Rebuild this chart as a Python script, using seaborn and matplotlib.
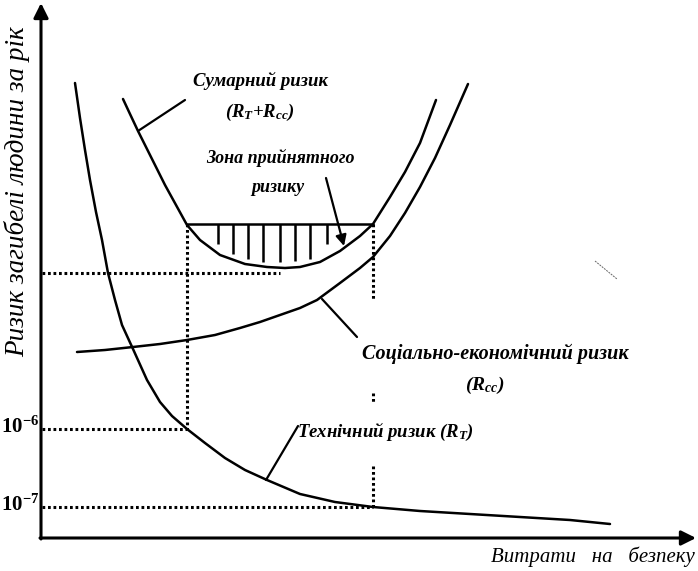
import numpy as np
import pandas as pd
import seaborn as sns
import matplotlib.pyplot as plt

# values (x: spending on safety, y: risk; image units, y grows downward)
rt_x = [75, 80, 85, 90, 96, 102, 108, 115, 122, 133, 147, 160, 172, 187, 205, 225, 245, 267,
        300, 335, 373, 420, 470, 520, 570, 610]
rt_y = [83, 118, 150, 180, 212, 240, 273, 300, 325, 349, 380, 402, 416, 429, 443, 458, 470, 480,
        494, 502, 507, 511, 514, 517, 520, 524]

rcc_x = [77, 105, 133, 160, 187, 215, 240, 260, 280, 300, 317, 340, 360, 373, 390, 405, 420, 435,
         450, 468]
rcc_y = [352, 350, 347, 344, 340, 335, 328, 322, 315, 308, 300, 283, 268, 257, 236, 213, 187, 158,
         125, 84]

sum_x = [123, 130, 138, 150, 165, 187, 200, 220, 245, 267, 285, 300, 320, 340, 360, 373, 390,
         405, 420, 436]
sum_y = [99, 114, 131, 155, 185, 225, 240, 255, 264, 267, 268, 267, 262, 251, 236, 224, 197,
         172, 143, 100]

zone_x = [187, 373]
zone_top = 224
hatch_x = [218, 233, 248, 263, 280, 295, 310, 327]
hatch_bottom = [244, 254, 259, 262, 262, 261, 259, 244]

level_low = 507    # 10^-7
level_mid = 429    # 10^-6
level_top = 273

ytick_labels = [r'$\mathbf{10^{-6}}$', r'$\mathbf{10^{-7}}$']

sns.set_theme(style="white")
plt.rcParams['font.family'] = ['Liberation Serif', 'DejaVu Serif']
plt.rcParams['text.color'] = 'black'
plt.rcParams['mathtext.fontset'] = 'custom'
plt.rcParams['mathtext.rm'] = 'Liberation Serif:bold:italic'
plt.rcParams['mathtext.it'] = 'Liberation Serif:bold:italic'
plt.rcParams['mathtext.bf'] = 'Liberation Serif:bold'

fig = plt.figure(figsize=(6.98, 5.71), dpi=100)
ax = fig.add_axes([0, 0, 1, 1])
ax.set_xlim(0, 698)
ax.set_ylim(571, 0)
ax.axis('off')

df = pd.concat([
    pd.DataFrame({'x': rt_x, 'y': rt_y, 'curve': 'RT'}),
    pd.DataFrame({'x': rcc_x, 'y': rcc_y, 'curve': 'Rcc'}),
    pd.DataFrame({'x': sum_x, 'y': sum_y, 'curve': 'Sum'}),
])
sns.lineplot(data=df, x='x', y='y', units='curve', estimator=None, sort=False,
             color='black', lw=1.8, ax=ax, legend=False)

# axes with arrows
arr = dict(arrowstyle='-|>', lw=2.2, color='black', mutation_scale=22, shrinkA=0, shrinkB=0)
ax.annotate('', xy=(41, 3), xytext=(41, 539), arrowprops=arr)
ax.annotate('', xy=(696, 538), xytext=(40, 538), arrowprops=arr)

# acceptable zone
ax.plot(zone_x, [zone_top, zone_top], color='black', lw=1.8)
ax.vlines(hatch_x, zone_top, hatch_bottom, color='black', lw=1.8)

dot = dict(color='black', lw=2.2, linestyle=(0, (0.9, 0.9)), dash_capstyle='butt')
ax.plot([42, 280], [level_top, level_top], **dot)
ax.plot([42, zone_x[0]], [level_mid, level_mid], **dot)
ax.plot([42, zone_x[1]], [level_low, level_low], **dot)
ax.plot([zone_x[0], zone_x[0]], [zone_top, level_mid], **dot)
ax.plot([zone_x[1], zone_x[1]], [zone_top, 300], **dot)
ax.plot([zone_x[1], zone_x[1]], [393, 403], **dot)
ax.plot([zone_x[1], zone_x[1]], [466, level_low], **dot)

# scan speck
ax.plot([595, 617], [261, 279], color='0.4', lw=0.7, linestyle=(0, (2, 1)))

# tick labels
for lab, yy in zip(ytick_labels, [level_mid, level_low]):
    ax.text(20, yy - 2, lab, fontsize=15, ha='center', va='center')

lab = dict(fontsize=13.5, fontweight='bold', fontstyle='italic', ha='center', va='center')
ax.text(260, 81, 'Сумарний ризик', **lab)
ax.text(260, 112, r'($R_T$+$R_{cc}$)', **lab)
ax.plot([138, 185], [131, 100], color='black', lw=1.6)

ax.text(280, 158, 'Зона прийнятного', fontsize=13, fontweight='bold', fontstyle='italic',
        ha='center', va='center')
ax.text(278, 187, 'ризику', fontsize=13, fontweight='bold', fontstyle='italic',
        ha='center', va='center')
ax.annotate('', xy=(344, 246), xytext=(326, 178),
            arrowprops=dict(arrowstyle='-|>', lw=1.6, color='black', mutation_scale=16,
                            shrinkA=0, shrinkB=0))

ax.text(495, 354, 'Соціально-економічний ризик', fontsize=14.5, fontweight='bold',
        fontstyle='italic', ha='center', va='center')
ax.text(485, 385, r'($R_{cc}$)', fontsize=14, fontweight='bold', fontstyle='italic',
        ha='center', va='center')
ax.plot([322, 357], [299, 337], color='black', lw=1.6)

ax.text(297, 432, r'Технічний ризик ($R_T$)', fontsize=13.5, fontweight='bold',
        fontstyle='italic', ha='left', va='center')
ax.plot([266, 298], [480, 426], color='black', lw=1.6)

ax.text(17, 192, 'Ризик загибелі людини за рік', fontsize=19.5, fontstyle='italic',
        rotation=90, ha='center', va='center')
ax.text(695, 557, 'Витрати   на   безпеку', fontsize=15, fontstyle='italic',
        ha='right', va='center')

fig.savefig('out.png', dpi=100, facecolor='white')
